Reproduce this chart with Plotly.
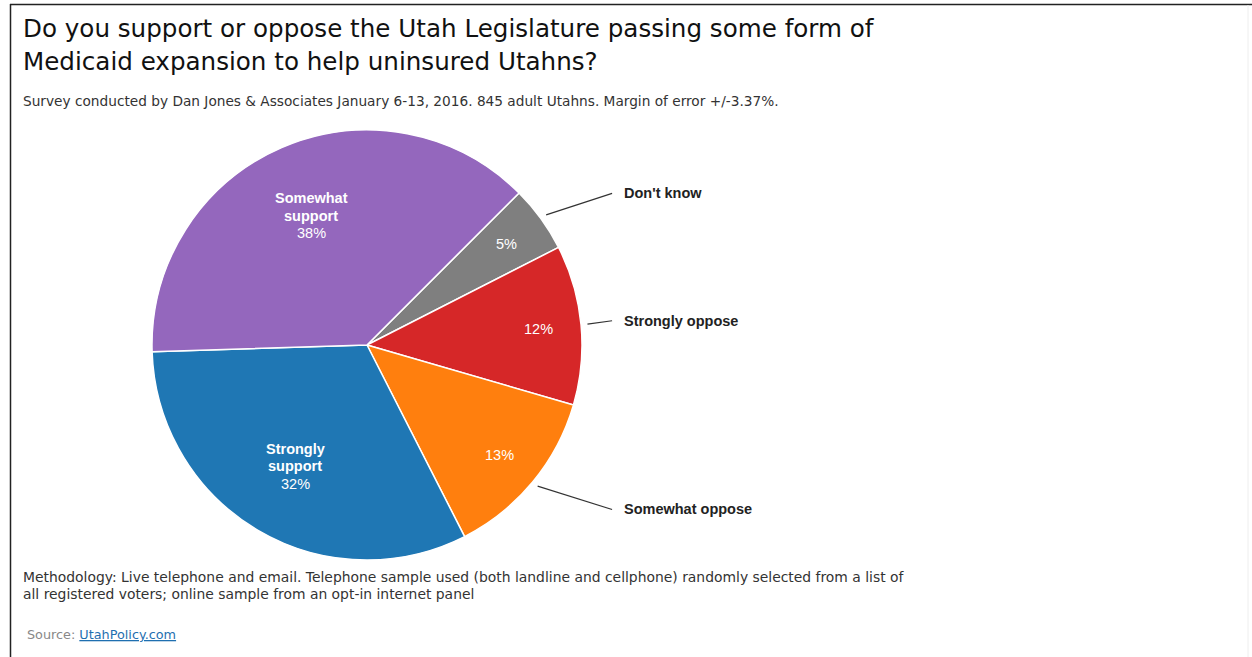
import math
import plotly.graph_objects as go

# ---- data ----
labels = ["Don't know", "Strongly oppose", "Somewhat oppose", "Strongly support", "Somewhat support"]
name_lines = [["Don't know"], ["Strongly oppose"], ["Somewhat oppose"], ["Strongly", "support"], ["Somewhat", "support"]]
values = [5, 12, 13, 32, 38]
colors = ["#7f7f7f", "#d62728", "#ff7f0e", "#1f77b4", "#9467bd"]

title_lines = ["Do you support or oppose the Utah Legislature passing some form of",
               "Medicaid expansion to help uninsured Utahns?"]
subtitle = "Survey conducted by Dan Jones & Associates January 6-13, 2016. 845 adult Utahns. Margin of error +/-3.37%."
method_lines = ["Methodology: Live telephone and email. Telephone sample used (both landline and cellphone) randomly selected from a list of",
                "all registered voters; online sample from an opt-in internet panel"]

# ---- layout constants ----
W, H = 1252, 657
CX, CY, R = 367, 345, 215
ROT = 45
FONT = "Arial, Liberation Sans, sans-serif"
WIDE = "DejaVu Sans, Arial, sans-serif"


def px(x):
    return x / W


def py(y):
    return 1 - y / H


fig = go.Figure(go.Pie(
    labels=labels, values=values, sort=False, direction="clockwise", rotation=ROT,
    marker=dict(colors=colors, line=dict(color="white", width=1.5)),
    textinfo="none", hoverinfo="label+percent", showlegend=False,
    domain=dict(x=[px(CX - R), px(CX + R)], y=[py(CY + R), py(CY - R)]),
))

ann = []
shapes = []
total = sum(values)
cum = 0
for lab, lines, v in zip(labels, name_lines, values):
    theta = math.radians(ROT + 360 * (cum + v / 2) / total)
    cum += v
    pct = f"{round(100 * v / total)}%"
    s, c = math.sin(theta), math.cos(theta)
    if v >= 20:
        r = 0.655 * R
        x0, y0 = CX + r * s, CY - r * c
        texts = [f"<b>{t}</b>" for t in lines] + [pct]
        for i, t in enumerate(texts):
            yy = y0 + (i - 1) * 17.5
            ann.append(dict(x=px(x0), y=py(yy), xref="paper", yref="paper", text=t, showarrow=False,
                            xanchor="center", yanchor="middle", font=dict(family=FONT, size=14.5, color="white")))
    else:
        r = 0.8 * R
        x0, y0 = CX + r * s, CY - r * c
        ann.append(dict(x=px(x0), y=py(y0), xref="paper", yref="paper", text=pct, showarrow=False,
                        xanchor="center", yanchor="middle", font=dict(family=FONT, size=14.5, color="white")))
        # leader line + outside label
        sx, sy = CX + 1.03 * R * s, CY - 1.03 * R * c
        ex, ey = CX + 1.14 * R, CY - 1.2 * R * c
        shapes.append(dict(type="line", xref="paper", yref="paper", x0=px(sx), y0=py(sy), x1=px(ex), y1=py(ey),
                           line=dict(color="#333333", width=1.2)))
        ann.append(dict(x=px(CX + 1.186 * R), y=py(ey), xref="paper", yref="paper", text=f"<b>{lines[0]}</b>",
                        showarrow=False, xanchor="left", yanchor="middle",
                        font=dict(family=FONT, size=14.5, color="#222222")))

# titles and notes
for i, t in enumerate(title_lines):
    ann.append(dict(x=px(21), y=py(28 + i * 33), xref="paper", yref="paper", text=t, showarrow=False,
                    xanchor="left", yanchor="middle", font=dict(family=WIDE, size=24.6, color="#111111")))
ann.append(dict(x=px(21), y=py(101), xref="paper", yref="paper", text=subtitle, showarrow=False,
                xanchor="left", yanchor="middle", font=dict(family=WIDE, size=13.7, color="#333333")))
for i, t in enumerate(method_lines):
    ann.append(dict(x=px(21), y=py(577 + i * 17), xref="paper", yref="paper", text=t, showarrow=False,
                    xanchor="left", yanchor="middle", font=dict(family=WIDE, size=13.9, color="#333333")))
ann.append(dict(x=px(25), y=py(634), xref="paper", yref="paper",
                text="<span style='color:#888888'>Source: </span><u>UtahPolicy.com</u>", showarrow=False,
                xanchor="left", yanchor="middle", font=dict(family=WIDE, size=12.8, color="#1f6fb0")))

# frame
shapes += [
    dict(type="line", xref="paper", yref="paper", x0=px(10), y0=py(4.5), x1=px(W), y1=py(4.5),
         line=dict(color="#222222", width=1.5)),
    dict(type="line", xref="paper", yref="paper", x0=px(10.5), y0=py(4), x1=px(10.5), y1=py(H),
         line=dict(color="#222222", width=1.5)),
    dict(type="line", xref="paper", yref="paper", x0=px(1248), y0=py(5), x1=px(1248), y1=py(H),
         line=dict(color="#eeeeee", width=1)),
]

fig.update_layout(width=W, height=H, autosize=False, margin=dict(l=0, r=0, t=0, b=0),
                  paper_bgcolor="white", plot_bgcolor="white", annotations=ann, shapes=shapes)

fig.write_html("out.html")
